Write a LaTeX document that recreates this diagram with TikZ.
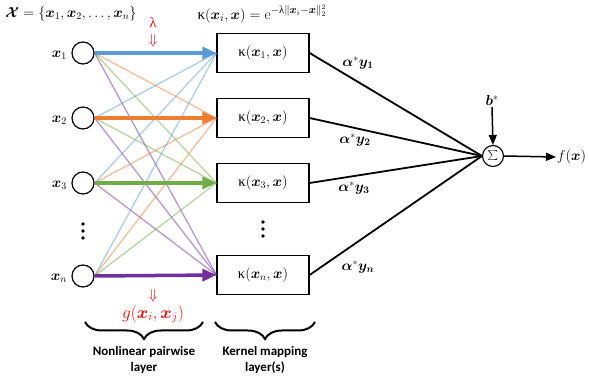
\documentclass[tikz,border=0pt]{standalone}
\usepackage{amsmath}
\usepackage{bm}
\usepackage{fontspec}
\newfontfamily\grk{Liberation Serif}
\newfontfamily\lblfont{Carlito}
\usetikzlibrary{arrows.meta,decorations.pathreplacing}
\definecolor{cblue}{RGB}{91,155,213}
\definecolor{corange}{RGB}{237,125,49}
\definecolor{cgreen}{RGB}{112,173,71}
\definecolor{cpurple}{RGB}{112,48,160}
\definecolor{cred}{RGB}{255,0,0}
\newcommand{\kap}{\text{\grk κ}}
\newcommand{\lam}{\text{\grk λ}}
\begin{document}
\begin{tikzpicture}[x=1pt,y=-1pt,
  inp/.style={circle,draw,line width=1.2pt,minimum size=22pt,inner sep=0pt},
  kbox/.style={draw,line width=1.2pt,minimum width=92pt,minimum height=39pt,inner sep=0pt,font=\fontsize{14.5}{16}\selectfont},
  thinlink/.style={line width=1.3pt,draw opacity=0.5},
  thicklink/.style={line width=3.5pt,-{Triangle[length=14pt,width=12pt]}},
  wline/.style={line width=1.8pt},
  mlabel/.style={font=\fontsize{14}{16}\selectfont,inner sep=1pt},
  layerlbl/.style={font=\lblfont\bfseries\fontsize{13}{16}\selectfont,align=center,inner sep=0pt},
  lbrace/.style={decorate,decoration={brace,mirror,amplitude=17pt},line width=2pt},
  dotcol/.style={fill=black}
]
\useasboundingbox (0,0) rectangle (589,387);

% input neurons
\node[inp] (c1) at (83,53) {};
\node[inp] (c2) at (83,118) {};
\node[inp] (c3) at (83,183) {};
\node[inp] (cn) at (83,276) {};
\node[mlabel,anchor=east] (l1) at (68,55) {$\bm{x}_1$};
\node[mlabel,anchor=east] (l2) at (68,120) {$\bm{x}_2$};
\node[mlabel,anchor=east] (l3) at (68,185) {$\bm{x}_3$};
\node[mlabel,anchor=east] (ln) at (68,278) {$\bm{x}_n$};

% kernel boxes
\node[kbox] (k1) at (263,53) {$\kap(\bm{x}_1,\bm{x})$};
\node[kbox] (k2) at (263,118) {$\kap(\bm{x}_2,\bm{x})$};
\node[kbox] (k3) at (263,183) {$\kap(\bm{x}_3,\bm{x})$};
\node[kbox] (kn) at (263,275) {$\kap(\bm{x}_n,\bm{x})$};

% vertical ellipses
\foreach \yy in {224,231,238} {
  \fill[dotcol] (83,\yy) circle (1.9pt);
  \fill[dotcol] (263,\yy-2) circle (1.9pt);
}

% pairwise links, coloured by target box
\foreach \s in {1,2,3,n} {
  \foreach \t/\c in {1/cblue,2/corange,3/cgreen,n/cpurple} {
    \draw[thinlink,\c] (c\s.east) -- (k\t.west);
  }
}
\draw[thicklink,cblue] (c1.east) -- (k1.west);
\draw[thicklink,corange] (c2.east) -- (k2.west);
\draw[thicklink,cgreen] (c3.east) -- (k3.west);
\draw[thicklink,cpurple] (cn.east) -- (kn.west);

% summation node
\node[circle,draw,line width=1.1pt,minimum size=21pt,inner sep=0pt] (s) at (493,156) {$\sum$};
\foreach \k in {1,2,3,n} \draw[wline] (k\k.east) -- (s.west);
\node[mlabel] (b) at (492,101) {$\bm{b}^{*}$};
\draw[line width=1.5pt,-{Triangle[length=10pt,width=8pt]}] (b.south) -- (s.north);
\node[mlabel,anchor=west] (f) at (556,157) {$f(\bm{x})$};
\draw[line width=1.5pt,-{Triangle[length=10pt,width=8pt]}] (s.east) -- (f.west);

% output weights
\node[mlabel] (a1) at (358,63) {$\bm{\alpha}^{*}\bm{y_1}$};
\node[mlabel] (a2) at (355,140) {$\bm{\alpha}^{*}\bm{y_2}$};
\node[mlabel] (a3) at (354,188) {$\bm{\alpha}^{*}\bm{y_3}$};
\node[mlabel] (an) at (358,267) {$\bm{\alpha}^{*}\bm{y_n}$};

% headers
\node[mlabel] (setx) at (71,14) {$\bm{\mathcal{X}}=\{\bm{x}_1,\bm{x}_2,\dots,\bm{x}_n\}$};
\node[mlabel,font=\fontsize{15}{17}\selectfont] (kdef) at (262,14) {$\kap(\bm{x}_i,\bm{x}) = \mathrm{e}^{-\lam\|\bm{x}_i-\bm{x}\|_2^2}$};
\node[mlabel,text=cred,inner sep=0pt] (lam) at (153,23) {\grk λ};
\node[mlabel,text=cred,inner sep=0pt] (darr1) at (153,41) {$\Downarrow$};
\node[mlabel,text=cred,inner sep=0pt] (darr2) at (153,296) {$\Downarrow$};
\node[mlabel,text=cred,font=\fontsize{16.5}{18}\selectfont] (g) at (153,314) {$g(\bm{x}_i,\bm{x}_j)$};

% layer braces
\coordinate (b1l) at (85,322);
\coordinate (b1r) at (203,322);
\coordinate (b2l) at (215,322);
\coordinate (b2r) at (315,322);
\draw[lbrace] (b1l) -- (b1r);
\draw[lbrace] (b2l) -- (b2r);
\node[layerlbl] (t1) at (144,360) {Nonlinear pairwise\\layer};
\node[layerlbl] (t2) at (265,360) {Kernel mapping\\layer(s)};
\end{tikzpicture}
\end{document}
